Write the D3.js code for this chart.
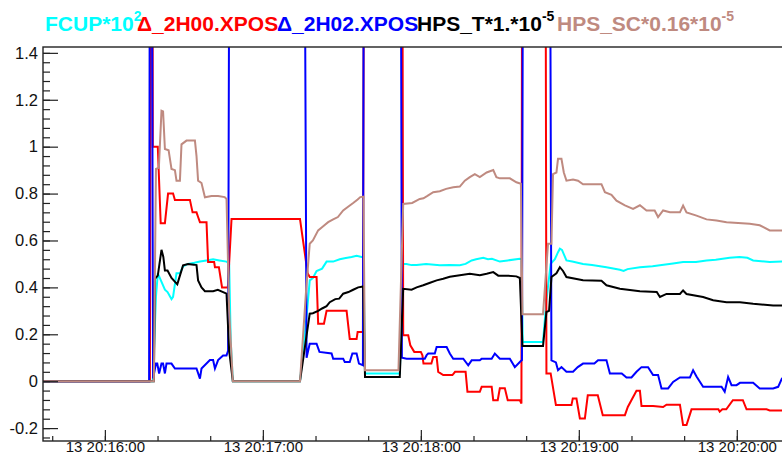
<!DOCTYPE html>
<html>
<head>
<meta charset="utf-8">
<script src="https://cdn.jsdelivr.net/npm/d3@7"></script>
<style>
  body { margin: 0; background: #fff; }
  svg { display: block; font-family: "Liberation Sans", Arial, sans-serif; }
  .legend-text { font-weight: bold; font-size: 21px; }
  .tick-label { font-size: 15px; fill: #111; }
  .ytick-label { font-size: 16.5px; fill: #111; }
</style>
</head>
<body>
<div class="chart"></div>
<script>
// seconds after 13 20:16:00, value
const fcup = [[-23.5,0],[18.2,0],[19.4,0.36],[20.1,0.46],[22.8,0.39],[23.8,0.38],[25.3,0.35],[25.9,0.36],[27.2,0.46],[28.5,0.46],[29.7,0.49],[31.6,0.50],[34,0.505],[36.1,0.51],[38.6,0.515],[41.1,0.52],[43.5,0.515],[46.2,0.51],[47.2,0.5],[47.8,0.17],[48.6,0],
  [74.1,0],[76.8,0.3],[77.8,0.43],[79,0.44],[80.4,0.47],[82.5,0.48],[84.2,0.51],[86.7,0.51],[89.2,0.52],[91.5,0.525],[93.7,0.53],[95.6,0.535],[97.5,0.53],[98.2,0.53],[98.8,0.033],
  [112,0.033],[113.3,0.50],[114.5,0.50],[116.5,0.495],[118.4,0.495],[122,0.5],[127.2,0.494],[131,0.495],[134.8,0.494],[137,0.5],[139.3,0.515],[141,0.52],[143.7,0.526],[145.5,0.52],[147,0.522],[150,0.51],[153,0.515],[157.6,0.522],[158.2,0.52],[158.7,0.167],
  [166.4,0.167],[167.7,0.345],[169.3,0.50],[170.9,0.52],[172.1,0.55],[172.8,0.565],[173.6,0.56],[175.3,0.515],[177.5,0.51],[181.6,0.50],[185,0.495],[190.5,0.486],[195.6,0.475],[197,0.47],[198.5,0.478],[203.2,0.486],[208,0.49],[210.8,0.494],[215.8,0.502],[219.6,0.508],[224.5,0.508],[228.5,0.515],[232,0.518],[237.3,0.526],[241,0.53],[244,0.526],[246.2,0.515],[252.5,0.508],[257.1,0.51],[264,0.51]];

const xpos2H00 = [[-23.5,0],[17.1,0],[17.6,3],[18.0,3],[18.2,1.0],[20.1,1.0],[21.2,0.674],[22.8,0.674],[24,0.80],[25.9,0.80],[26.6,0.773],[32.3,0.773],[33.3,0.72],[34.8,0.72],[35.4,0.70],[36.1,0.678],[38.6,0.678],[39.2,0.508],[41.5,0.508],[41.8,0.486],[43.3,0.486],[44.5,0.40],[46.7,0.40],[48.1,0.692],
  [74.1,0.692],[77.0,0.46],[77.8,0.444],[80.4,0.444],[81.0,0.245],[83.2,0.245],[84.2,0.30],[91.8,0.30],[93,0.18],[95.6,0.18],[96,0.21],[98,0.21],[98.6,3],
  [112.8,3],[113.3,0.196],[115.2,0.196],[116,0.153],[117.5,0.125],[120,0.125],[120.6,0.11],[121,0.075],[124.0,0.075],[124.7,0.103],[126,0.103],[126.6,0.04],[128.5,0.026],[132,0.026],[133,0.04],[137,0.04],[137.7,-0.045],[142.4,-0.045],[143.1,-0.024],[146.9,-0.024],[147.5,-0.081],[149.2,-0.081],[150,-0.03],[151.9,-0.03],[153,-0.081],[157.6,-0.081],[158.2,-0.095],[158.6,3],
  [167.2,3],[167.7,0.033],[169.3,0.033],[171.3,-0.102],[177.2,-0.102],[177.7,-0.074],[179.1,-0.074],[180.4,-0.159],[182.3,-0.159],[183.4,-0.06],[187.2,-0.06],[189.1,-0.145],[197.5,-0.145],[198.6,-0.11],[201.9,-0.041],[203.2,-0.041],[203.8,-0.106],[208.2,-0.106],[212,-0.11],[213.3,-0.10],[218.4,-0.10],[219.6,-0.187],[220.9,-0.187],[222.8,-0.12],[233,-0.12],[233.5,-0.13],[234.5,-0.12],[236,-0.12],[238.5,-0.081],[242.3,-0.081],[243.7,-0.12],[251.3,-0.12],[252.5,-0.125],[264,-0.125]];

const xpos2H02 = [[-23.5,0],[16.8,0],[17.2,3],[17.6,3],[18.3,0.011],[19.4,0.075],[19.9,0.075],[20.6,0.033],[21.5,0.075],[22.1,0.075],[22.8,0.033],[23.4,0.075],[25.3,0.075],[26.6,0.054],[34.8,0.054],[36.1,0.011],[36.7,0.054],[39.9,0.09],[41.1,0.09],[41.8,0.054],[43,0.09],[44.9,0.11],[46.2,0.11],[46.8,0.13],[47.5,3],
  [75.5,3],[76.6,0.10],[77.8,0.16],[80.4,0.16],[81.5,0.125],[86.1,0.118],[86.7,0.096],[90.5,0.096],[91.1,0.082],[93,0.082],[94,0.118],[95.6,0.118],[96.5,0.075],[98,0.068],[98.5,3],
  [112.2,3],[112.8,0.10],[114.6,0.096],[121.5,0.096],[122.2,0.111],[122.8,0.118],[125.3,0.118],[126,0.146],[129.8,0.146],[131,0.118],[132.3,0.096],[136.1,0.096],[138,0.068],[139.3,0.089],[142.4,0.089],[143.1,0.096],[146.9,0.096],[148.1,0.118],[150,0.096],[153.8,0.096],[155.7,0.06],[157.6,0.082],[158.4,0.09],[159,3],
  [168.8,3],[169.6,0.089],[171.3,0.08],[172.1,0.047],[173.4,0.06],[175.3,0.04],[177.8,0.04],[179.6,0.06],[181.6,0.075],[185.9,0.075],[187.3,0.089],[190.5,0.089],[191.8,0.033],[196.3,0.033],[198.1,0.016],[200,0.016],[201.9,0.04],[203.8,0.06],[206.3,0.06],[208.2,0.026],[210.1,0.026],[211.4,-0.031],[213.9,-0.031],[215.8,-0.003],[218.4,0.016],[222.2,0.016],[223.4,0.047],[224.7,0.02],[227.2,-0.024],[234.2,-0.024],[235.4,-0.045],[236.7,0.018],[238,-0.017],[239.9,-0.017],[241.2,-0.007],[246.2,-0.007],[248.7,-0.031],[253.8,-0.031],[255.7,-0.024],[257.1,0.011],[264,0.02]];

const hpsT = [[-23.5,0],[18.6,0],[19,0.437],[20.1,0.45],[21.5,0.56],[22.2,0.53],[22.8,0.472],[23.8,0.472],[25.3,0.44],[27.5,0.413],[28.5,0.45],[29.7,0.494],[31.6,0.50],[33.8,0.497],[34.8,0.495],[35.4,0.43],[36.7,0.40],[38,0.384],[41.1,0.384],[42.9,0.39],[44.9,0.38],[46.2,0.373],[47.2,0.13],[48.6,0],
  [74.1,0],[77.8,0.288],[79,0.29],[81,0.30],[82.5,0.31],[84.2,0.32],[85.4,0.337],[87.5,0.35],[89,0.352],[90.5,0.373],[92.5,0.38],[94.3,0.39],[96.2,0.40],[98.1,0.404],[98.8,0.018],
  [112,0.018],[113.3,0.394],[116.5,0.39],[118.4,0.40],[120.9,0.409],[123.5,0.42],[126,0.43],[128.5,0.437],[131,0.445],[134.8,0.452],[138.6,0.458],[142.4,0.452],[145,0.458],[147.5,0.465],[149.4,0.45],[153,0.45],[156.3,0.447],[157.6,0.44],[158.6,0.15],
  [166.4,0.15],[167.7,0.295],[168.7,0.30],[169.6,0.444],[171.5,0.46],[172.8,0.486],[174,0.47],[175.3,0.444],[181.6,0.43],[188.6,0.428],[190.5,0.409],[195.6,0.394],[199.4,0.389],[203.2,0.384],[209.6,0.38],[210.8,0.359],[213.3,0.372],[218.4,0.372],[219.6,0.387],[220.9,0.372],[227.2,0.359],[231,0.345],[236.1,0.337],[241.2,0.337],[246.2,0.33],[253.8,0.323],[264,0.323]];

const hpsSC = [[-23.5,0],[18.6,0],[19.4,0.905],[20.5,0.91],[21.5,1.153],[22.1,1.15],[22.8,0.99],[24.2,0.985],[25.3,0.905],[26.6,0.9],[27.2,0.855],[28.5,0.855],[29.1,1.01],[31,1.026],[34.2,1.026],[34.8,0.96],[35.4,0.855],[36.7,0.845],[38,0.784],[40.5,0.79],[43,0.79],[45.5,0.785],[46.2,0.777],[47.2,0.3],[48.6,0],
  [74.1,0],[76.5,0.4],[77.8,0.586],[79,0.6],[81,0.643],[82.8,0.66],[84.8,0.678],[86.7,0.69],[88.5,0.70],[90.5,0.728],[92.5,0.745],[94.3,0.76],[96,0.775],[97,0.785],[98.2,0.787],[98.8,0.047],
  [111.5,0.047],[113.3,0.756],[116.7,0.76],[119.6,0.777],[121,0.78],[122.5,0.79],[124.7,0.806],[127.2,0.81],[129.6,0.82],[132.3,0.827],[134.8,0.83],[136.7,0.855],[138.6,0.87],[140.5,0.883],[142.4,0.87],[145,0.89],[147.5,0.90],[148.7,0.87],[150,0.865],[153.8,0.865],[156.3,0.848],[158,0.842],[158.6,0.285],
  [166.4,0.285],[168.3,0.586],[169.6,0.586],[170.2,0.883],[171.5,0.89],[172.1,0.948],[173.4,0.948],[174.3,0.89],[175.3,0.855],[177.8,0.86],[179.7,0.855],[181.6,0.84],[188.6,0.84],[189.9,0.806],[192.4,0.795],[194.3,0.77],[197.5,0.75],[200.6,0.735],[203.2,0.75],[205.7,0.728],[208.8,0.728],[210.1,0.70],[212,0.728],[214.6,0.72],[218.4,0.72],[219.6,0.749],[220.9,0.72],[224.7,0.706],[228.5,0.69],[232.3,0.685],[236.1,0.678],[244.9,0.671],[248.7,0.665],[252.5,0.643],[264,0.643]];

const seriesData = [fcup, xpos2H00, xpos2H02, hpsT, hpsSC];
const seriesColors = ["#00ffff", "#ff0000", "#0000ff", "#000000", "#bf8a80"];
const legendMain = ["FCUP*10", "\u0394_2H00.XPOS", "\u0394_2H02.XPOS", "HPS_T*1.*10", "HPS_SC*0.16*10"];
const legendSup = ["2", "", "", "-5", "-5"];
const yTicks = [-0.2, 0, 0.2, 0.4, 0.6, 0.8, 1, 1.2, 1.4];
const startTime = new Date(2019, 0, 13, 20, 16, 0);

let width = 782,
  height = 459,
  frame = {left: 43, top: 47, right: 800, bottom: 441};

let toDate = s => new Date(startTime.getTime() + s * 1000);

let svg = d3.select(".chart")
  .append("svg")
  .attr("width", width)
  .attr("height", height);

let xScale = d3.scaleTime()
  .domain([toDate(-23.5), toDate(264)])
  .range([frame.left, frame.right]);
let yScale = d3.scaleLinear()
  .domain([-0.255, 1.425])
  .range([frame.bottom, frame.top]);

svg.append("clipPath")
  .attr("id", "plot-clip")
  .append("rect")
  .attr("x", frame.left)
  .attr("y", frame.top)
  .attr("width", frame.right - frame.left)
  .attr("height", frame.bottom - frame.top);

// lines
let line = d3.line()
  .x(d => xScale(toDate(d[0])))
  .y(d => yScale(d[1]));

svg.append("g")
  .attr("clip-path", "url(#plot-clip)")
  .selectAll("path")
  .data(seriesData)
  .enter().append("path")
  .attr("d", line)
  .attr("fill", "none")
  .attr("stroke", (d, i) => seriesColors[i])
  .attr("stroke-width", 2);

// frame
svg.append("rect")
  .attr("x", frame.left)
  .attr("y", frame.top)
  .attr("width", frame.right - frame.left)
  .attr("height", frame.bottom - frame.top)
  .attr("fill", "none")
  .attr("stroke", "#222")
  .attr("stroke-width", 1.4);

// x axis: major ticks each minute, minor every 20 s
let xMajor = d3.range(0, 5).map(m => toDate(m * 60));
let xMinor = d3.range(-20, 264, 20).map(toDate);

svg.append("g")
  .attr("transform", `translate(0,${frame.bottom})`)
  .call(d3.axisBottom(xScale).tickValues(xMinor).tickSize(-5).tickFormat(""))
  .call(g => g.select(".domain").remove())
  .selectAll("line").attr("stroke", "#222").attr("stroke-width", 1.2);

let xAxisG = svg.append("g")
  .attr("transform", `translate(0,${frame.bottom})`)
  .call(d3.axisBottom(xScale).tickValues(xMajor).tickSize(-11).tickFormat(d3.timeFormat("%d %H:%M:%S")))
  .call(g => g.select(".domain").remove());
xAxisG.selectAll("line").attr("stroke", "#222").attr("stroke-width", 1.2);
xAxisG.selectAll("text")
  .attr("class", "tick-label")
  .attr("y", 11)
  .attr("dy", 0)
  .style("font-family", "inherit");

// y axis
let yMinor = d3.range(-0.24, 1.43, 0.04);

svg.append("g")
  .attr("transform", `translate(${frame.left},0)`)
  .call(d3.axisLeft(yScale).tickValues(yMinor).tickSize(-7).tickFormat(""))
  .call(g => g.select(".domain").remove())
  .selectAll("line").attr("stroke", "#222").attr("stroke-width", 1.2);

let yAxisG = svg.append("g")
  .attr("transform", `translate(${frame.left},0)`)
  .call(d3.axisLeft(yScale).tickValues(yTicks).tickSize(-15).tickPadding(5).tickFormat(d => String(d)))
  .call(g => g.select(".domain").remove());
yAxisG.selectAll("line").attr("stroke", "#222").attr("stroke-width", 1.2);
yAxisG.selectAll("text")
  .attr("class", "ytick-label")
  .attr("x", -5)
  .style("font-family", "inherit");

// legend titles across the top
let legendX = [45, 137, 277, 417, 557];

legendMain.forEach((t, i) => {
  let txt = svg.append("text")
    .attr("class", "legend-text")
    .attr("x", legendX[i])
    .attr("y", 31)
    .attr("fill", seriesColors[i]);
  txt.append("tspan").text(t);
  if (legendSup[i]) {
    txt.append("tspan")
      .attr("dy", -10)
      .style("font-size", "14px")
      .text(legendSup[i]);
  }
});
</script>
</body>
</html>
